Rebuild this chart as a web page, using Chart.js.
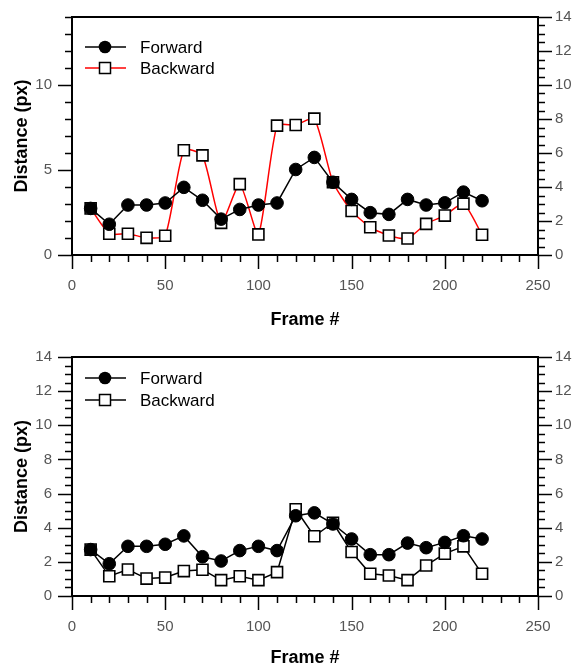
<!DOCTYPE html>
<html>
<head>
<meta charset="utf-8">
<script src="https://cdn.jsdelivr.net/npm/chart.js@4.4.1/dist/chart.umd.min.js"></script>
<style>
  html, body { margin: 0; padding: 0; background: #fff; }
  canvas { position: absolute; left: 0; }
  #topChart { top: 0; }
  #bottomChart { top: 335px; }
</style>
</head>
<body>
<canvas id="topChart" width="575" height="335"></canvas>
<canvas id="bottomChart" width="575" height="334"></canvas>
<script>
const frames = [10, 20, 30, 40, 50, 60, 70, 80, 90, 100, 110, 120, 130, 140, 150, 160, 170, 180, 190, 200, 210, 220];

const topForward = [2.74, 1.81, 2.94, 2.94, 3.06, 3.98, 3.22, 2.11, 2.68, 2.94, 3.06, 5.03, 5.74, 4.28, 3.27, 2.49, 2.39, 3.27, 2.94, 3.07, 3.70, 3.19];
const topBackward = [2.74, 1.25, 1.25, 1.01, 1.13, 6.16, 5.86, 1.89, 4.17, 1.21, 7.61, 7.65, 8.02, 4.28, 2.59, 1.63, 1.15, 0.97, 1.83, 2.32, 3.02, 1.19];

const bottomForward = [2.72, 1.89, 2.91, 2.91, 3.03, 3.52, 2.30, 2.05, 2.66, 2.91, 2.66, 4.70, 4.87, 4.22, 3.34, 2.42, 2.42, 3.10, 2.83, 3.14, 3.53, 3.34];
const bottomBackward = [2.72, 1.16, 1.55, 1.02, 1.08, 1.46, 1.54, 0.93, 1.16, 0.93, 1.40, 5.08, 3.50, 4.29, 2.58, 1.30, 1.20, 0.93, 1.79, 2.48, 2.91, 1.30];

const seriesNames = ['Forward', 'Backward'];
const xTitle = 'Frame #';
const yTitle = 'Distance (px)';

Chart.defaults.font.family = "'Liberation Sans', Arial, sans-serif";
Chart.defaults.color = '#555';

const toPoints = (ys) => frames.map((x, i) => ({ x: x, y: ys[i] }));

// box, tick marks and the in-plot legend
const framePlugin = {
    id: 'frame',
    afterDraw(chart, args, opts) {
        const { ctx, chartArea: a, scales } = chart;
        ctx.save();
        ctx.strokeStyle = '#000';
        ctx.lineCap = 'butt';

        const marks = (scale, minor, major, side) => {
            ctx.lineWidth = 1.5;
            for (let v = scale.min; v <= scale.max + 1e-9; v += minor) {
                const r = v / major;
                const len = Math.abs(r - Math.round(r)) < 1e-6 ? 14 : 7;
                const p = Math.round(scale.getPixelForValue(v)) + 0.5;
                ctx.beginPath();
                if (side === 'bottom') { ctx.moveTo(p, a.bottom); ctx.lineTo(p, a.bottom + len); }
                if (side === 'left') { ctx.moveTo(a.left, p); ctx.lineTo(a.left - len, p); }
                if (side === 'right') { ctx.moveTo(a.right, p); ctx.lineTo(a.right + len, p); }
                ctx.stroke();
            }
        };
        marks(scales.x, 10, 50, 'bottom');
        marks(scales.y, opts.leftMinor, opts.leftMajor, 'left');
        marks(scales.y2, 0.5, 2, 'right');

        ctx.lineWidth = 2;
        ctx.strokeRect(a.left, a.top, a.right - a.left, a.bottom - a.top);

        // legend
        ctx.font = "17px 'Liberation Sans', Arial, sans-serif";
        ctx.textBaseline = 'middle';
        chart.data.datasets.forEach((ds, i) => {
            const y = a.top + opts.legendTop + i * opts.legendGap;
            const x0 = a.left + 13, x1 = a.left + 54, xm = a.left + 33;
            ctx.strokeStyle = ds.borderColor;
            ctx.lineWidth = 1.5;
            ctx.beginPath(); ctx.moveTo(x0, y); ctx.lineTo(x1, y); ctx.stroke();
            ctx.strokeStyle = '#000';
            if (ds.pointStyle === 'rect') {
                ctx.fillStyle = '#fff';
                ctx.fillRect(xm - 5.5, y - 5.5, 11, 11);
                ctx.strokeRect(xm - 5.5, y - 5.5, 11, 11);
            } else {
                ctx.fillStyle = '#000';
                ctx.beginPath(); ctx.arc(xm, y, 6.3, 0, Math.PI * 2); ctx.fill();
            }
            ctx.fillStyle = '#000';
            ctx.fillText(ds.label, a.left + 68, y + 1);
        });
        ctx.restore();
    }
};

// vertical scales add tick padding to the top of the plot; drop it
const fixVertical = (w) => (s) => { s.width = w; s.paddingTop = 0; s.paddingBottom = 0; };

function makeChart(id, forward, backward, backColor, cfg) {
    return new Chart(document.getElementById(id), {
        type: 'line',
        data: {
            datasets: [
                {
                    label: seriesNames[0],
                    data: toPoints(forward),
                    borderColor: '#000',
                    borderWidth: 1.5,
                    backgroundColor: '#000',
                    pointStyle: 'circle',
                    pointRadius: 6.3,
                    pointBorderWidth: 1,
                    pointBorderColor: '#000',
                    pointBackgroundColor: '#000',
                    tension: 0,
                    yAxisID: 'y'
                },
                {
                    label: seriesNames[1],
                    data: toPoints(backward),
                    borderColor: backColor,
                    borderWidth: 1.5,
                    backgroundColor: '#fff',
                    pointStyle: 'rect',
                    pointRadius: 7.8,
                    pointBorderWidth: 1.6,
                    pointBorderColor: '#000',
                    pointBackgroundColor: '#fff',
                    tension: cfg.tension,
                    yAxisID: 'y'
                }
            ]
        },
        options: {
            responsive: false,
            animation: false,
            events: [],
            layout: { padding: { top: cfg.padTop, left: 0, right: 0, bottom: 0 } },
            plugins: {
                legend: { display: false },
                tooltip: { enabled: false },
                frame: cfg.frame
            },
            scales: {
                x: {
                    type: 'linear',
                    min: 0, max: 250,
                    grid: { display: false, drawTicks: false },
                    border: { display: false },
                    ticks: { stepSize: 50, padding: 22, font: { size: 15 }, maxRotation: 0 },
                    title: {
                        display: true, text: xTitle, color: '#000',
                        font: { size: 18, weight: 'bold' },
                        padding: { top: 0, bottom: cfg.xTitlePad }
                    },
                    afterFit: (s) => { s.height = cfg.xHeight; }
                },
                y: {
                    position: 'left',
                    min: 0, max: 14,
                    grid: { display: false, drawTicks: false },
                    border: { display: false },
                    ticks: { stepSize: cfg.frame.leftMajor, includeBounds: false, padding: 20, font: { size: 15 } },
                    title: {
                        display: true, text: yTitle, color: '#000',
                        font: { size: 18, weight: 'bold' },
                        padding: { top: 11, bottom: 0 }
                    },
                    afterFit: fixVertical(72)
                },
                y2: {
                    position: 'right',
                    min: 0, max: 14,
                    grid: { display: false, drawTicks: false },
                    border: { display: false },
                    ticks: { stepSize: 2, padding: 17, font: { size: 15 } },
                    afterFit: fixVertical(37)
                }
            }
        },
        plugins: [framePlugin]
    });
}

const topChart = makeChart('topChart', topForward, topBackward, '#ff0000', {
    tension: 0.2, padTop: 17, xHeight: 80, xTitlePad: 4,
    frame: { leftMinor: 1, leftMajor: 5, legendTop: 30, legendGap: 21 }
});

const bottomChart = makeChart('bottomChart', bottomForward, bottomBackward, '#000', {
    tension: 0, padTop: 22, xHeight: 73, xTitlePad: 0,
    frame: { leftMinor: 0.5, leftMajor: 2, legendTop: 21, legendGap: 22 }
});
</script>
</body>
</html>
